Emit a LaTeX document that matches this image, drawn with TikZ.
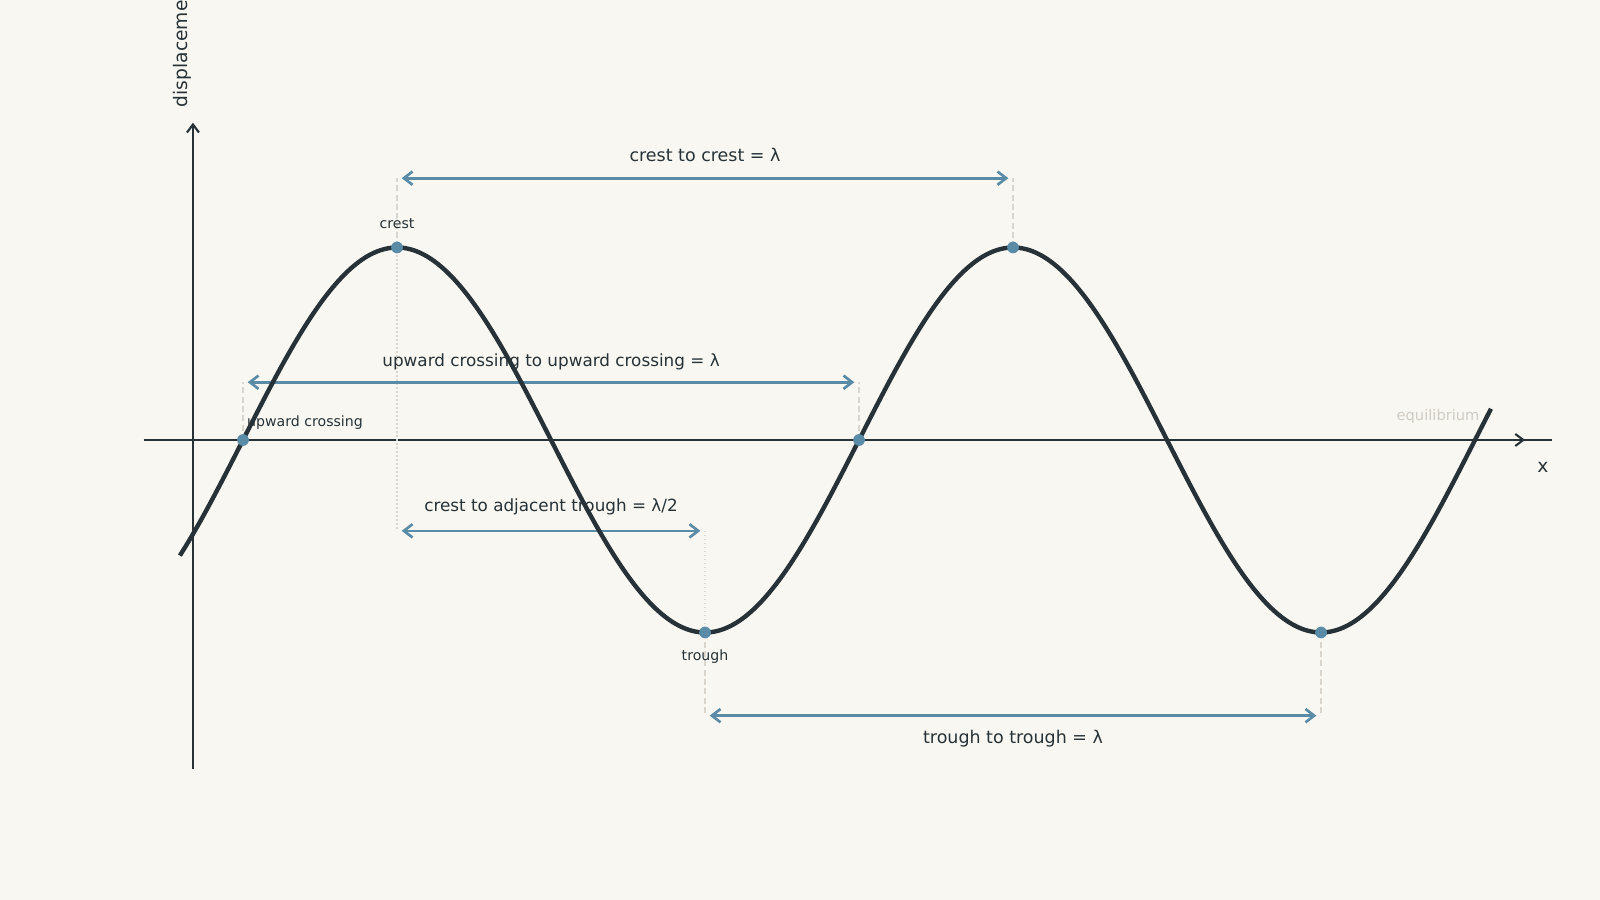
\documentclass[tikz,border=0pt]{standalone}
\usepackage{fontspec}
\setmainfont{DejaVu Sans}
\usepackage{tikz}
\usetikzlibrary{arrows.meta,positioning,calc}
\definecolor{bgc}{HTML}{F9F7F1}
\definecolor{ink}{HTML}{263238}
\definecolor{steel}{HTML}{5A8CA8}
\definecolor{guidegray}{HTML}{DAD6CE}
\definecolor{faint}{HTML}{D0CCC4}
\newcommand{\bigtxt}{\fontsize{13.1}{15}\selectfont}
\newcommand{\midtxt}{\fontsize{12.6}{15}\selectfont}
\newcommand{\smalltxt}{\fontsize{10.6}{12}\selectfont}
\newcommand{\axtxt}{\fontsize{14}{16}\selectfont}

\begin{document}
\begin{tikzpicture}[x=57.75pt,y=57.75pt,
    axis/.style={ink,line width=1.6pt},
    wave/.style={ink,line width=3.3pt},
    dim/.style={steel,line width=2pt,{Straight Barb[length=6.5pt,width=10pt]}-{Straight Barb[length=6.5pt,width=10pt]},shorten <=3.5pt,shorten >=3.5pt},
    guide/.style={guidegray,line width=1.1pt,dash pattern=on 4.5pt off 2.5pt},
    halfguide/.style={guidegray,line width=0.9pt,dash pattern=on 1pt off 2pt},
    dot/.style={steel},
    lbl/.style={ink,inner sep=0pt,anchor=base}]
    % Background
    \fill[bgc] (-2.506,-5.974) rectangle (18.273,5.714);
    \useasboundingbox (-2.506,-5.974) rectangle (18.273,5.714);
    % Points on the wave
    \coordinate (u1) at (0.65,0);
    \coordinate (c1) at (2.65,2.5);
    \coordinate (t1) at (6.65,-2.5);
    \coordinate (u2) at (8.65,0);
    \coordinate (c2) at (10.65,2.5);
    \coordinate (t2) at (14.65,-2.5);
    % Ends of the spans
    \coordinate (cc1) at (2.65,3.40);
    \coordinate (cc2) at (10.65,3.40);
    \coordinate (uu1) at (0.65,0.75);
    \coordinate (uu2) at (8.65,0.75);
    \coordinate (ct1) at (2.65,-1.18);
    \coordinate (ct2) at (6.65,-1.18);
    \coordinate (tt1) at (6.65,-3.58);
    \coordinate (tt2) at (14.65,-3.58);
    % Axes
    \coordinate (xstart) at (-0.64,0);
    \coordinate (xend) at (17.3,0);
    \coordinate (eqstart) at (-0.32,0);
    \coordinate (eqend) at (17.65,0);
    \coordinate (ystart) at (0,-4.27);
    \coordinate (yend) at (0,4.12);
    \draw[axis] (eqstart) -- (eqend);
    \draw[axis,-{Straight Barb[length=6pt,width=9pt]}] (xstart) -- (xend);
    \draw[axis,-{Straight Barb[length=6pt,width=9pt]}] (ystart) -- (yend);
    \node[lbl,anchor=base,font=\axtxt] (xlbl) at (17.53,-0.416) {x};
    \node[lbl,anchor=base west,rotate=90,font=\axtxt] (ylbl) at (-0.074,4.32) {displacement};
    \node[lbl,text=faint,font=\fontsize{11}{13}\selectfont] (eqlbl) at (16.17,0.25) {equilibrium};
    % Guide lines
    \draw[guide] (c1) -- (cc1);
    \draw[guide] (c2) -- (cc2);
    \draw[guide] (u1) -- (uu1);
    \draw[guide] (u2) -- (uu2);
    \draw[guide] (t1) -- (tt1);
    \draw[guide] (t2) -- (tt2);
    \draw[halfguide] (c1) -- (ct1);
    \draw[halfguide] (ct2) -- (t1);
    % Spans
    \draw[dim] (cc1) -- (cc2);
    \draw[dim] (uu1) -- (uu2);
    \draw[dim] (ct1) -- (ct2);
    \draw[dim] (tt1) -- (tt2);
    \node[lbl,font=\bigtxt] (lcc) at (6.65,3.62) {crest to crest = λ};
    \node[lbl,font=\midtxt] (luu) at (4.65,0.96) {upward crossing to upward crossing = λ};
    \node[lbl,font=\midtxt] (lct) at (4.65,-0.935) {crest to adjacent trough = λ/2};
    \node[lbl,font=\bigtxt] (ltt) at (10.65,-3.94) {trough to trough = λ};
    % Curve
    \draw[wave,domain=-0.17:16.86,samples=240,smooth,variable=\x] plot ({\x},{2.5*sin(45*(\x-0.65))});
    % Marked points
    \foreach \p in {u1,c1,t1,u2,c2,t2}
      \fill[dot] (\p) circle[radius=4.4pt];
    \node[lbl,font=\smalltxt] (lcrest) at (2.65,2.74) {crest};
    \node[lbl,font=\smalltxt] (ltrough) at (6.65,-2.86) {trough};
    \node[lbl,anchor=base west,font=\smalltxt] (lup) at (0.70,0.18) {upward crossing};
\end{tikzpicture}
\end{document}
